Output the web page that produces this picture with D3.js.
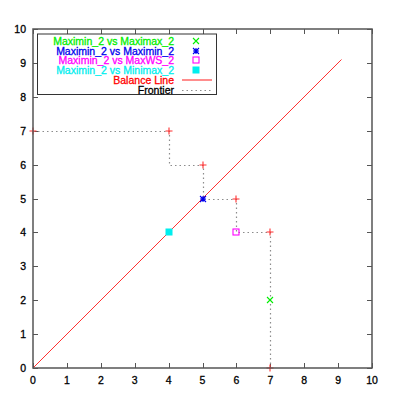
<!DOCTYPE html>
<html>
<head>
<meta charset="utf-8">
<script src="https://cdn.jsdelivr.net/npm/d3@7"></script>
<style>
  body { margin: 0; background: #fff; }
  text { font-family: "Liberation Sans", Arial, sans-serif; }
</style>
</head>
<body>
<div id="chart"></div>
<script>
// data
const ticks = [0, 1, 2, 3, 4, 5, 6, 7, 8, 9, 10];
const frontierX = [0, 4, 4, 5, 5, 6, 6, 7, 7];
const frontierY = [7, 7, 6, 6, 5, 5, 4, 4, 0];
const cornerX = [0, 4, 5, 6, 7, 7];
const cornerY = [7, 7, 6, 5, 4, 0];
const balance = [0, 9.1];
const seriesNames = ['Maximin_2 vs Maximax_2', 'Maximin_2 vs Maximin_2', 'Maximin_2 vs MaxWS_2', 'Maximin_2 vs Minimax_2'];
const seriesX = [7, 5, 6, 4];
const seriesY = [2, 5, 4, 4];
const seriesColors = ['#00ee00', '#0000ee', '#ff00ff', '#00eeee'];
const seriesSymbols = ['cross', 'star', 'box', 'fbox'];

const width = 400, height = 399;
const margin = { top: 29, right: 28, bottom: 31, left: 33 };
const innerW = width - margin.left - margin.right;
const innerH = height - margin.top - margin.bottom;

const svg = d3.select('#chart').append('svg')
  .attr('width', width).attr('height', height);
const g = svg.append('g').attr('transform', `translate(${margin.left}, ${margin.top})`);

const x = d3.scaleLinear().domain([0, 10]).range([0, innerW]);
const y = d3.scaleLinear().domain([0, 10]).range([innerH, 0]);
const px = v => Math.round(v) + 0.5;   // crisp
const soft = v => Math.round(v);       // spread over two pixels, like the reference marks

const axisColor = '#555';
const tl = 5;
const frontierColor = '#8c8c8c';

function label(sel, color) {
  return sel.attr('font-size', 10.5).attr('fill', color)
    .attr('stroke', color).attr('stroke-width', 0.3);
}

// ticks on all four sides
ticks.forEach(t => {
  const tx = px(x(t)), ty = px(y(t));
  g.append('line').attr('x1', tx).attr('x2', tx).attr('y1', innerH).attr('y2', innerH - tl)
    .attr('stroke', axisColor).attr('stroke-width', 1);
  g.append('line').attr('x1', tx).attr('x2', tx).attr('y1', 0).attr('y2', tl)
    .attr('stroke', axisColor).attr('stroke-width', 1);
  g.append('line').attr('y1', ty).attr('y2', ty).attr('x1', 0).attr('x2', tl)
    .attr('stroke', axisColor).attr('stroke-width', 1);
  g.append('line').attr('y1', ty).attr('y2', ty).attr('x1', innerW).attr('x2', innerW - tl)
    .attr('stroke', axisColor).attr('stroke-width', 1);
  label(g.append('text').attr('x', x(t)).attr('y', innerH + 16).attr('text-anchor', 'middle'), '#000').text(t);
  label(g.append('text').attr('x', -7).attr('y', y(t) + 4).attr('text-anchor', 'end'), '#000').text(t);
});

// frontier
const frontier = frontierX.map((v, i) => [v, frontierY[i]]);
g.append('path')
  .attr('d', d3.line().x(d => px(x(d[0]))).y(d => px(y(d[1])))(frontier))
  .attr('fill', 'none').attr('stroke', frontierColor).attr('stroke-width', 1.2)
  .attr('stroke-dasharray', '1.5,3');

// balance line
g.append('line')
  .attr('x1', x(balance[0])).attr('y1', y(balance[0]))
  .attr('x2', x(balance[1])).attr('y2', y(balance[1]))
  .attr('stroke', '#ff3030').attr('stroke-width', 1);

// red + markers at frontier corners
const plus = (gg, cx, cy, s, color) => {
  gg.append('path').attr('d', `M${cx - s},${cy}H${cx + s}M${cx},${cy - s}V${cy + s}`)
    .attr('stroke', color).attr('stroke-width', 1.1).attr('fill', 'none');
};
cornerX.forEach((v, i) => plus(g, soft(x(v)), soft(y(cornerY[i])), 3.5, '#ff3030'));

function symbol(gg, type, cx, cy, color) {
  cx = soft(cx); cy = soft(cy);
  const s = 3;
  if (type === 'cross') {
    gg.append('path').attr('d', `M${cx - s},${cy - s}L${cx + s},${cy + s}M${cx - s},${cy + s}L${cx + s},${cy - s}`)
      .attr('stroke', color).attr('stroke-width', 1.1).attr('fill', 'none');
  } else if (type === 'star') {
    gg.append('path').attr('d', `M${cx - s},${cy - s}L${cx + s},${cy + s}M${cx - s},${cy + s}L${cx + s},${cy - s}M${cx - s},${cy}H${cx + s}M${cx},${cy - s}V${cy + s}`)
      .attr('stroke', color).attr('stroke-width', 1.1).attr('fill', 'none');
  } else if (type === 'box') {
    gg.append('rect').attr('x', cx - 3).attr('y', cy - 3).attr('width', 6).attr('height', 6)
      .attr('stroke', color).attr('stroke-width', 1.1).attr('fill', 'none');
  } else {
    gg.append('rect').attr('x', cx - 3.5).attr('y', cy - 3.5).attr('width', 7).attr('height', 7)
      .attr('fill', color);
  }
}
seriesX.forEach((v, i) => symbol(g, seriesSymbols[i], x(v), y(seriesY[i]), seriesColors[i]));

// border
g.append('rect').attr('width', innerW).attr('height', innerH)
  .attr('fill', 'none').attr('stroke', axisColor).attr('stroke-width', 1.5);

// legend
const leg = svg.append('g');
leg.append('rect').attr('x', 37.5).attr('y', 34).attr('width', 179).attr('height', 60.5)
  .attr('fill', '#fff').attr('stroke', '#333').attr('stroke-width', 1);
const rowY = d3.range(6).map(i => 41 + 9.7 * i);
const textX = 174;
seriesNames.forEach((n, i) => {
  label(leg.append('text').attr('x', textX).attr('y', rowY[i] + 4).attr('text-anchor', 'end'), seriesColors[i]).text(n);
  symbol(leg, seriesSymbols[i], 196, rowY[i], seriesColors[i]);
});
label(leg.append('text').attr('x', textX).attr('y', rowY[4] + 4).attr('text-anchor', 'end'), '#ff0000')
  .text('Balance Line');
leg.append('line').attr('x1', 182).attr('x2', 212).attr('y1', soft(rowY[4])).attr('y2', soft(rowY[4]))
  .attr('stroke', '#ff3030').attr('stroke-width', 1.1);
label(leg.append('text').attr('x', textX).attr('y', rowY[5] + 4).attr('text-anchor', 'end'), '#000')
  .text('Frontier');
leg.append('line').attr('x1', 182).attr('x2', 212).attr('y1', px(rowY[5])).attr('y2', px(rowY[5]))
  .attr('stroke', frontierColor).attr('stroke-width', 1.2).attr('stroke-dasharray', '1.5,3');
</script>
</body>
</html>
